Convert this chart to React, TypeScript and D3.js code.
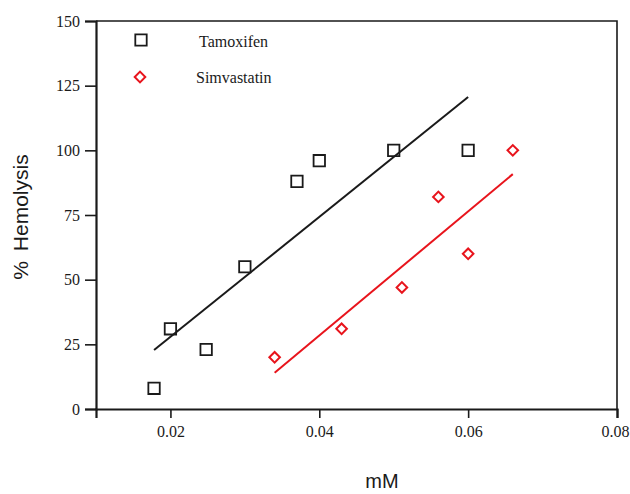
import { useEffect, useRef } from "react";
import * as d3 from "d3";

// data
const tamoxifenX = [0.0178, 0.02, 0.0248, 0.03, 0.037, 0.04, 0.05, 0.06];
const tamoxifenY = [8, 31, 23, 55, 88, 96, 100, 100];
const tamoxifenFitX = [0.0178, 0.06];
const tamoxifenFitY = [22.8, 120.6];

const simvastatinX = [0.034, 0.043, 0.0511, 0.056, 0.06, 0.066];
const simvastatinY = [20, 31, 47, 82, 60, 100];
const simvastatinFitX = [0.034, 0.066];
const simvastatinFitY = [14, 90.8];

const xTicks = [0.02, 0.04, 0.06, 0.08];
const yTicks = [0, 25, 50, 75, 100, 125, 150];
const seriesNames = ["Tamoxifen", "Simvastatin"];

const W = 630;
const H = 494;
const RED = "#e8141c";
const INK = "#1a1a1a";
const SERIF = "'Liberation Serif', 'Times New Roman', serif";
const SANS = "'Liberation Sans', Arial, sans-serif";

export default function App() {
  const ref = useRef<SVGSVGElement>(null);

  useEffect(() => {
    const svg = d3.select(ref.current);
    svg.selectAll("*").remove();

    const x = d3.scaleLinear().domain([0.01, 0.08]).range([96, 617]);
    const y = d3.scaleLinear().domain([0, 150]).range([409, 21]);

    // frame: top & right thin lines
    svg
      .append("path")
      .attr("d", `M${x(0.01)},${y(150)}H${x(0.08)}V${y(0)}`)
      .attr("fill", "none")
      .attr("stroke", INK)
      .attr("stroke-width", 1.6);

    const yAxis = svg
      .append("g")
      .attr("transform", `translate(${x(0.01)},0)`)
      .call(d3.axisLeft(y).tickValues(yTicks).tickSize(11).tickPadding(5).tickFormat(d3.format("d")));
    yAxis.attr("font-family", null);
    yAxis.select(".domain").attr("stroke", INK).attr("stroke-width", 2.2);
    yAxis.selectAll("line").attr("stroke", INK).attr("stroke-width", 1.6);
    yAxis
      .selectAll("text")
      .style("font-family", SERIF)
      .style("font-size", "16px")
      .attr("fill", INK);

    const xAxis = svg
      .append("g")
      .attr("transform", `translate(0,${y(0)})`)
      .call(d3.axisBottom(x).tickValues(xTicks).tickSize(9).tickPadding(8).tickFormat(d3.format(".2f")));
    xAxis.attr("font-family", null);
    xAxis.select(".domain").attr("stroke", INK).attr("stroke-width", 2.2);
    xAxis.selectAll("line").attr("stroke", INK).attr("stroke-width", 1.6);
    xAxis
      .selectAll("text")
      .style("font-family", SERIF)
      .style("font-size", "16px")
      .attr("dx", (d) => ((d as number) === 0.08 ? -2 : 0))
      .attr("fill", INK);

    // fit lines
    const line = d3
      .line<[number, number]>()
      .x((d) => x(d[0]))
      .y((d) => y(d[1]));
    svg
      .append("path")
      .attr("d", line(d3.zip(tamoxifenFitX, tamoxifenFitY) as [number, number][]))
      .attr("stroke", INK)
      .attr("stroke-width", 2)
      .attr("fill", "none");
    svg
      .append("path")
      .attr("d", line(d3.zip(simvastatinFitX, simvastatinFitY) as [number, number][]))
      .attr("stroke", RED)
      .attr("stroke-width", 2)
      .attr("fill", "none");

    const square = d3.symbol(d3.symbolSquare, 130);
    const diamond = d3.symbol(d3.symbolSquare, 56);

    svg
      .selectAll(".tam")
      .data(d3.zip(tamoxifenX, tamoxifenY))
      .join("path")
      .attr("class", "tam")
      .attr("d", square())
      .attr("transform", (d) => `translate(${x(d[0])},${y(d[1])})`)
      .attr("fill", "none")
      .attr("stroke", INK)
      .attr("stroke-width", 1.8);

    svg
      .selectAll(".sim")
      .data(d3.zip(simvastatinX, simvastatinY))
      .join("path")
      .attr("class", "sim")
      .attr("d", diamond())
      .attr("transform", (d) => `translate(${x(d[0])},${y(d[1])}) rotate(45)`)
      .attr("fill", "none")
      .attr("stroke", RED)
      .attr("stroke-width", 2);

    // legend
    svg
      .append("path")
      .attr("d", square())
      .attr("transform", "translate(141,40)")
      .attr("fill", "none")
      .attr("stroke", INK)
      .attr("stroke-width", 1.8);
    svg
      .append("path")
      .attr("d", diamond())
      .attr("transform", "translate(140,77) rotate(45)")
      .attr("fill", "none")
      .attr("stroke", RED)
      .attr("stroke-width", 2);
    svg
      .selectAll(".leg")
      .data(seriesNames)
      .join("text")
      .attr("class", "leg")
      .attr("x", (_, i) => (i === 0 ? 199 : 196))
      .attr("y", (_, i) => (i === 0 ? 47 : 83))
      .style("font-family", SERIF)
      .style("font-size", "16px")
      .attr("fill", INK)
      .text((d) => d);

    // axis titles
    svg
      .append("text")
      .attr("transform", "translate(28,217) rotate(-90)")
      .attr("text-anchor", "middle")
      .style("font-family", SANS)
      .style("font-size", "21px")
      .style("word-spacing", "4px")
      .attr("fill", INK)
      .text("% Hemolysis");
    svg
      .append("text")
      .attr("x", 382)
      .attr("y", 488)
      .attr("text-anchor", "middle")
      .style("font-family", SANS)
      .style("font-size", "20px")
      .attr("fill", INK)
      .text("mM");
  }, []);

  return (
    <svg
      ref={ref}
      width={W}
      height={H}
      style={{ position: "absolute", left: 0, top: 0, background: "#fff", display: "block" }}
    />
  );
}
